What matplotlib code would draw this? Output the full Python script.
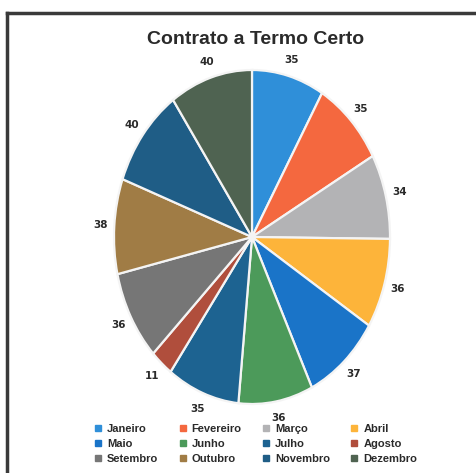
import matplotlib
matplotlib.use("Agg")
import matplotlib.pyplot as plt
from matplotlib.lines import Line2D

months = ["Janeiro", "Fevereiro", "Março", "Abril", "Maio", "Junho",
          "Julho", "Agosto", "Setembro", "Outubro", "Novembro", "Dezembro"]
values = [35, 35, 34, 36, 37, 36, 35, 11, 36, 38, 40, 40]
colors = ["#2F8FD9", "#F4683F", "#B3B3B5", "#FDB43A", "#1A74C8", "#4C9A5A",
          "#1D6391", "#B04E3C", "#767676", "#A07C45", "#1F5D86", "#4F6351"]
title = "Contrato a Termo Certo"

W, H = 477, 473
fig = plt.figure(figsize=(W / 100, H / 100), dpi=100)
fig.patch.set_facecolor("white")

# pie ellipse: center (252,237) px from top, rx=138, ry=167
rx, ry = 138, 167
cx, cy = 252, 237
aw, ah = 2.5 * rx, 2.5 * ry
ax = fig.add_axes([(cx - aw / 2) / W, (H - cy - ah / 2) / H, aw / W, ah / H])

wedges, texts = ax.pie(values, colors=colors, labels=[str(v) for v in values],
                       startangle=90, counterclock=False, labeldistance=1.1,
                       wedgeprops=dict(edgecolor="#F4F4F4", linewidth=1.6),
                       textprops=dict(fontsize=7.5, color="#2A2A2A", fontweight="bold"))
for t in texts:
    t.set_ha("center")
    t.set_va("center")
ax.set_aspect("auto")
ax.set_xlim(-1.25, 1.25)
ax.set_ylim(-1.25, 1.25)

fig.text(256 / W, 1 - 40 / H, title, ha="center", va="center",
         fontsize=14, fontweight="bold", color="#2A2A2A",
         family=["Liberation Sans Narrow", "Liberation Sans", "DejaVu Sans"])

order = [0, 4, 8, 1, 5, 9, 2, 6, 10, 3, 7, 11]
handles = [Line2D([], [], marker="s", linestyle="none", markersize=4,
                  markerfacecolor=colors[i], markeredgecolor=colors[i]) for i in order]
labels = [months[i] for i in order]
leg = fig.legend(handles, labels, ncol=4, loc="center", bbox_to_anchor=(256 / W, 1 - 444 / H),
                 frameon=False, handlelength=0.6, handletextpad=0.5,
                 columnspacing=1.9, labelspacing=0.45,
                 prop=dict(size=8, weight="bold",
                           family=["Liberation Sans Narrow", "Liberation Sans", "DejaVu Sans"]))
for t in leg.get_texts():
    t.set_color("#2A2A2A")

# scanned frame lines
fig.add_artist(Line2D([7 / W, 1.0], [1 - 13 / H, 1 - 13 / H], color="#3A3A3A", linewidth=2.5,
                      transform=fig.transFigure))
fig.add_artist(Line2D([7 / W, 7 / W], [1 - 13 / H, 0.0], color="#3A3A3A", linewidth=2.5,
                      transform=fig.transFigure))

fig.savefig("out.png", dpi=100, facecolor="white")
